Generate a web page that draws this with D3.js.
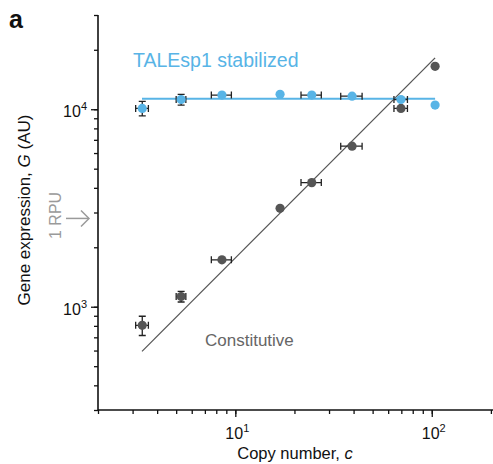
<!DOCTYPE html>
<html>
<head>
<meta charset="utf-8">
<script src="https://cdn.jsdelivr.net/npm/d3@7"></script>
<style>
body { margin: 0; background: #fff; }
text { font-family: "Liberation Sans", Arial, Helvetica, sans-serif; }
</style>
</head>
<body>
<div id="chart"></div>
<script>
var svgWidth = 493;
var svgHeight = 464;

var margin = { top: 15, left: 98, right: 0, bottom: 54 };
var width = svgWidth - margin.left - margin.right;
var height = svgHeight - margin.top - margin.bottom;

// copy numbers (shared by both series)
var copyNumber = [3.36, 5.3, 8.55, 16.9, 24.5, 39.3, 69.7, 104];
var copyErr = [0.25, 0.3, 1.0, 0, 2.9, 4.9, 5.5, 0];

// TALEsp1 stabilized
var taleG = [10100, 11200, 11800, 11900, 11800, 11650, 11200, 10500];
var taleGErr = [850, 700, 0, 0, 0, 0, 0, 0];
var taleFit = [11300, 11300];

// Constitutive
var constG = [805, 1127, 1727, 3150, 4250, 6500, 10100, 16500];
var constGErr = [90, 70, 0, 0, 0, 0, 0, 0];
var constFit = [594, 18200];

var fitRange = [3.35, 104];

var xTicks = [10, 100];
var yTicks = [1000, 10000];
var rpuValue = 2800;

var blue = "#58b4e6";
var grey = "#555555";

var svg = d3.select("#chart").append("svg").attr("width", svgWidth).attr("height", svgHeight);
var chartGroup = svg.append("g").attr("transform", `translate(${margin.left},${margin.top})`);

var xScale = d3.scaleLog().domain([2, 205]).range([0, width]);
var yScale = d3.scaleLog().domain([300, 30000]).range([height, 0]);

// minor ticks
var xMinor = [];
[1, 10, 100].forEach(function(d){ for (var i = 1; i <= 9; i++) { var v = d * i; if (v >= 2 && v <= 200) xMinor.push(v); } });
var yMinor = [];
[100, 1000, 10000].forEach(function(d){ for (var i = 1; i <= 9; i++) { var v = d * i; if (v >= 300 && v <= 30000) yMinor.push(v); } });

var bottomAxis = d3.axisBottom(xScale).tickValues(xMinor).tickSize(4).tickFormat("");
var leftAxis = d3.axisLeft(yScale).tickValues(yMinor).tickSize(4).tickFormat("");

var xAxis = chartGroup.append("g").attr("transform", `translate(0,${height})`).call(bottomAxis);
var yAxis = chartGroup.append("g").call(leftAxis);
xAxis.select(".domain").attr("d", `M0,0H${width}`);
yAxis.select(".domain").attr("d", `M0,0V${height}`);
chartGroup.append("g").attr("transform", `translate(0,${height})`)
    .call(d3.axisBottom(xScale).tickValues(xTicks).tickSize(7).tickFormat(""))
    .select(".domain").remove();
chartGroup.append("g")
    .call(d3.axisLeft(yScale).tickValues(yTicks).tickSize(7).tickFormat(""))
    .select(".domain").remove();
chartGroup.selectAll(".domain, .tick line").attr("stroke", "#111").attr("stroke-width", 1.3);
chartGroup.selectAll(".domain").attr("stroke-width", 1.6);

// tick labels with superscripts
xTicks.forEach(function(t){
    var lbl = chartGroup.append("text").attr("x", xScale(t) + 2).attr("y", height + 29)
        .attr("text-anchor", "middle").attr("font-size", 16).attr("fill", "#111");
    lbl.append("tspan").text("10");
    lbl.append("tspan").attr("dy", -7).attr("font-size", 11).text(Math.round(Math.log10(t)));
});
yTicks.forEach(function(t){
    var lbl = chartGroup.append("text").attr("x", -11).attr("y", yScale(t) + 8)
        .attr("text-anchor", "end").attr("font-size", 16).attr("fill", "#111");
    lbl.append("tspan").text("10");
    lbl.append("tspan").attr("dy", -7).attr("font-size", 11).text(Math.round(Math.log10(t)));
});

// axis titles
var xTitle = chartGroup.append("text").attr("x", 197).attr("y", height + 49)
    .attr("text-anchor", "middle").attr("font-size", 16.5).attr("fill", "#111");
xTitle.append("tspan").text("Copy number, ");
xTitle.append("tspan").attr("font-style", "italic").text("c");

var yTitle = svg.append("text").attr("transform", "translate(30,210) rotate(-90)")
    .attr("text-anchor", "middle").attr("font-size", 17).attr("fill", "#111");
yTitle.append("tspan").text("Gene expression, ");
yTitle.append("tspan").attr("font-style", "italic").text("G");
yTitle.append("tspan").text(" (AU)");

// 1 RPU marker
var rpuY = margin.top + yScale(rpuValue);
svg.append("text").attr("transform", `translate(61,${rpuY - 3}) rotate(-90)`)
    .attr("text-anchor", "middle").attr("font-size", 16).attr("fill", "#9a9a9a").text("1 RPU");
svg.append("line").attr("x1", 66).attr("x2", 89).attr("y1", rpuY).attr("y2", rpuY)
    .attr("stroke", "#9a9a9a").attr("stroke-width", 1.5);
svg.append("path").attr("d", `M81,${rpuY - 8}L89,${rpuY}L81,${rpuY + 8}`)
    .attr("fill", "none").attr("stroke", "#9a9a9a").attr("stroke-width", 1.5);

svg.append("text").attr("x", 9).attr("y", 28).attr("font-size", 25).attr("font-weight", "bold")
    .attr("fill", "#111").text("a");

// fit lines
var fitLine = d3.line().x(d => xScale(d[0])).y(d => yScale(d[1]));
chartGroup.append("path").datum(d3.zip(fitRange, constFit)).attr("d", fitLine)
    .attr("stroke", grey).attr("stroke-width", 1.3).attr("fill", "none");
chartGroup.append("path").datum(d3.zip(fitRange, taleFit)).attr("d", fitLine)
    .attr("stroke", blue).attr("stroke-width", 2).attr("fill", "none");

function drawSeries(gVals, gErr, color) {
    var data = copyNumber.map(function(c, i){ return { c: c, cErr: copyErr[i], g: gVals[i], gErr: gErr[i] }; });
    var grp = chartGroup.append("g");
    var pts = grp.selectAll("g").data(data).enter().append("g");
    pts.each(function(d){
        var el = d3.select(this);
        var cx = xScale(d.c), cy = yScale(d.g);
        if (d.cErr > 0) {
            var x1 = xScale(d.c - d.cErr), x2 = xScale(d.c + d.cErr);
            el.append("path").attr("d", `M${x1},${cy}H${x2}M${x1},${cy - 3.5}V${cy + 3.5}M${x2},${cy - 3.5}V${cy + 3.5}`)
                .attr("stroke", "#222").attr("stroke-width", 1.3).attr("fill", "none");
        }
        if (d.gErr > 0) {
            var y1 = yScale(d.g + d.gErr), y2 = yScale(d.g - d.gErr);
            el.append("path").attr("d", `M${cx},${y1}V${y2}M${cx - 3.5},${y1}H${cx + 3.5}M${cx - 3.5},${y2}H${cx + 3.5}`)
                .attr("stroke", "#222").attr("stroke-width", 1.3).attr("fill", "none");
        }
        el.append("circle").attr("cx", cx).attr("cy", cy).attr("r", 4.6).attr("fill", color);
    });
}

drawSeries(constG, constGErr, grey);
drawSeries(taleG, taleGErr, blue);

chartGroup.append("text").attr("x", 35).attr("y", 52).attr("font-size", 19.5).attr("fill", blue)
    .text("TALEsp1 stabilized");
chartGroup.append("text").attr("x", 107).attr("y", 331).attr("font-size", 17).attr("fill", "#666")
    .text("Constitutive");
</script>
</body>
</html>
